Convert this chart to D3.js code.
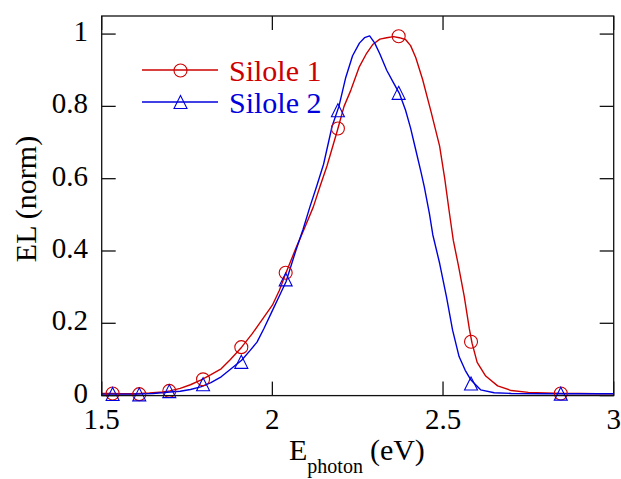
<!DOCTYPE html>
<html>
<head>
<meta charset="utf-8">
<script src="https://cdn.jsdelivr.net/npm/d3@7/dist/d3.min.js"></script>
</head>
<body style="margin:0">
<svg id="chart" width="621" height="479"></svg>
<script>
// Normalised electroluminescence spectra of two silole devices
const silole1Energy = [1.50, 1.53, 1.56, 1.60, 1.64, 1.68, 1.70, 1.73, 1.76, 1.79, 1.82, 1.85, 1.875, 1.91, 1.94, 1.965,
  2.00, 2.02, 2.04, 2.07, 2.095, 2.12, 2.14, 2.16, 2.19, 2.21, 2.23, 2.255, 2.275, 2.295, 2.315, 2.335, 2.355, 2.372,
  2.39, 2.405, 2.42, 2.44, 2.465, 2.49, 2.505, 2.518, 2.53, 2.545, 2.562, 2.577, 2.585, 2.60, 2.625, 2.66, 2.70,
  2.75, 2.80, 2.85, 2.90, 2.95, 3.00];
const silole1EL = [0.006, 0.006, 0.005, 0.005, 0.007, 0.010, 0.013, 0.020, 0.030, 0.043, 0.058, 0.074, 0.098, 0.134, 0.170, 0.203,
  0.250, 0.290, 0.340, 0.410, 0.465, 0.522, 0.580, 0.635, 0.732, 0.800, 0.845, 0.910, 0.945, 0.972, 0.986, 0.990, 0.993, 0.990,
  0.985, 0.968, 0.935, 0.875, 0.785, 0.690, 0.600, 0.510, 0.430, 0.360, 0.275, 0.185, 0.145, 0.092, 0.054, 0.027, 0.014,
  0.009, 0.007, 0.006, 0.006, 0.005, 0.005];

const silole2Energy = [1.50, 1.55, 1.60, 1.65, 1.70, 1.73, 1.76, 1.79, 1.82, 1.85, 1.88, 1.91, 1.935, 1.955, 1.975,
  2.00, 2.02, 2.04, 2.07, 2.09, 2.11, 2.13, 2.15, 2.175, 2.195, 2.215, 2.235, 2.255, 2.27, 2.285, 2.30, 2.315, 2.335,
  2.355, 2.372, 2.39, 2.405, 2.42, 2.435, 2.445, 2.46, 2.47, 2.49, 2.51, 2.528, 2.547, 2.565, 2.582, 2.61, 2.65, 2.70,
  2.80, 2.90, 3.00];
const silole2EL = [0.004, 0.004, 0.004, 0.006, 0.010, 0.012, 0.017, 0.024, 0.036, 0.052, 0.075, 0.098, 0.125, 0.148, 0.185,
  0.235, 0.275, 0.315, 0.405, 0.460, 0.522, 0.580, 0.640, 0.745, 0.800, 0.880, 0.940, 0.975, 0.990, 0.995, 0.975, 0.945, 0.900,
  0.865, 0.836, 0.790, 0.740, 0.680, 0.620, 0.578, 0.504, 0.445, 0.366, 0.274, 0.181, 0.108, 0.070, 0.043, 0.016, 0.008, 0.006,
  0.005, 0.005, 0.005];

// Symbol positions along each spectrum
const markerEnergy = [1.532, 1.610, 1.698, 1.797, 1.909, 2.039, 2.192, 2.370, 2.582, 2.845];
const silole1MarkerEL = [0.006, 0.004, 0.013, 0.045, 0.134, 0.340, 0.739, 0.994, 0.149, 0.006];
const silole2MarkerEL = [0.003, 0.002, 0.011, 0.030, 0.092, 0.320, 0.788, 0.836, 0.032, 0.004];

const seriesNames = ["Silole 1", "Silole 2"];
const xTicks = [1.5, 2, 2.5, 3];
const xTickLabels = ["1.5", "2", "2.5", "3"];
const yTicks = [0, 0.2, 0.4, 0.6, 0.8, 1];
const yTickLabels = ["0", "0.2", "0.4", "0.6", "0.8", "1"];

const RED = "#cc0000";
const BLUE = "#0000dd";
const FONT = "Liberation Serif";

const svg = d3.select("#chart");
const plotL = 101.7, plotR = 613.7, plotT = 16, plotB = 395.6;

const x = d3.scaleLinear().domain([1.5, 3]).range([plotL, plotR]);
const y = d3.scaleLinear().domain([0, 1.05]).range([plotB, plotT]);

svg.append("defs").append("clipPath").attr("id", "plotClip")
  .append("rect").attr("x", plotL).attr("y", plotT).attr("width", plotR - plotL).attr("height", plotB - plotT);

const plot = svg.append("g").attr("clip-path", "url(#plotClip)");

const line = d3.line().x(d => x(d[0])).y(d => y(d[1]));

const series = [
  { name: seriesNames[0], color: RED, pts: d3.zip(silole1Energy, silole1EL), marks: d3.zip(markerEnergy, silole1MarkerEL), symbol: "circle" },
  { name: seriesNames[1], color: BLUE, pts: d3.zip(silole2Energy, silole2EL), marks: d3.zip(markerEnergy, silole2MarkerEL), symbol: "triangle" }
];

const triPath = "M0,-7L6.5,6L-6.5,6Z";

function drawSymbol(g, s, cx, cy) {
  if (s.symbol === "circle") {
    g.append("circle").attr("cx", cx).attr("cy", cy).attr("r", 6.5)
      .attr("fill", "none").attr("stroke", s.color).attr("stroke-width", 1.1);
  } else {
    g.append("path").attr("d", triPath).attr("transform", `translate(${cx},${cy})`)
      .attr("fill", "none").attr("stroke", s.color).attr("stroke-width", 1.1);
  }
}

function label(parent, size) {
  return parent.append("text").style("font-family", FONT).style("font-size", size + "px");
}

series.forEach(s => {
  plot.append("path").datum(s.pts).attr("d", line)
    .attr("fill", "none").attr("stroke", s.color).attr("stroke-width", 1.4)
    .attr("stroke-linejoin", "round");
});
series.forEach(s => {
  s.marks.forEach(d => drawSymbol(svg, s, x(d[0]), y(d[1])));
});

// Frame with inward ticks on all four sides
const axisG = svg.append("g").attr("stroke", "#111").attr("stroke-width", 1.3).attr("fill", "none");
axisG.append("rect").attr("x", plotL).attr("y", plotT).attr("width", plotR - plotL).attr("height", plotB - plotT);
const tickLen = 14;
xTicks.forEach(t => {
  axisG.append("line").attr("x1", x(t)).attr("x2", x(t)).attr("y1", plotB).attr("y2", plotB - tickLen);
  axisG.append("line").attr("x1", x(t)).attr("x2", x(t)).attr("y1", plotT).attr("y2", plotT + tickLen);
});
yTicks.forEach(t => {
  axisG.append("line").attr("x1", plotL).attr("x2", plotL + tickLen).attr("y1", y(t)).attr("y2", y(t));
  axisG.append("line").attr("x1", plotR).attr("x2", plotR - tickLen).attr("y1", y(t)).attr("y2", y(t));
});

// Tick labels
xTicks.forEach((t, i) => {
  label(svg, 29).attr("x", x(t)).attr("y", 429).attr("text-anchor", "middle").attr("fill", "#000").text(xTickLabels[i]);
});
yTicks.forEach((t, i) => {
  label(svg, 29).attr("x", 88).attr("y", y(t) + 7).attr("text-anchor", "end").attr("fill", "#000").text(yTickLabels[i]);
});

// Axis titles
label(svg, 30).attr("transform", "translate(36,199) rotate(-90)").attr("text-anchor", "middle")
  .attr("fill", "#000").text("EL (norm)");

const xt = label(svg, 30).attr("x", 289).attr("y", 460).attr("fill", "#000");
xt.append("tspan").text("E");
xt.append("tspan").attr("dy", 13).style("font-size", "20px").text("photon");
xt.append("tspan").attr("dy", -13).attr("dx", 7).style("font-size", "30px").text("(eV)");

// Legend
const legendY = [70, 102];
series.forEach((s, i) => {
  const ly = legendY[i];
  svg.append("line").attr("x1", 142).attr("x2", 218).attr("y1", ly).attr("y2", ly)
    .attr("stroke", s.color).attr("stroke-width", 1.4);
  drawSymbol(svg, s, 180.5, ly + 0.5);
  label(svg, 30).attr("x", 229).attr("y", ly + 10.5).attr("fill", s.color).text(s.name);
});
</script>
</body>
</html>
